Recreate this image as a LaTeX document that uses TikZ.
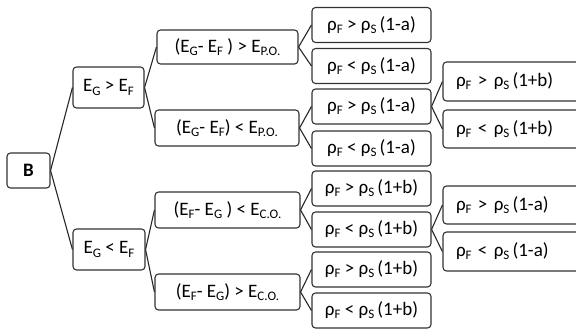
\documentclass[tikz,border=0pt]{standalone}
\usepackage{fontspec}
\setmainfont{Carlito}
\newcommand\sbx[1]{\raisebox{-0.35ex}{\fontsize{13}{13}\selectfont #1}}
\tikzset{
  box/.style={draw=black!80, line width=1.1pt, rounded corners=3.5pt, inner sep=0pt, align=center, font=\fontsize{19}{21}\selectfont},
  rbox/.style={box, minimum width=#1, text width=#1-26pt, align=left, inner xsep=13pt},
  conn/.style={draw=black!85, line width=1.1pt}
}
\begin{document}
\begin{tikzpicture}[x=1pt,y=-1pt]
\useasboundingbox (0,0) rectangle (576,329);
\node[box, minimum width=43pt, minimum height=35pt, font=\fontsize{19}{20}\selectfont\bfseries] (B) at (28.5,170.5) {B};
\node[box, minimum width=71pt, minimum height=41pt] (L1a) at (108.5,87.5) {E\sbx{G} > E\sbx{F}};
\node[box, minimum width=72pt, minimum height=41pt] (L1b) at (109,249.5) {E\sbx{G} < E\sbx{F}};
\node[box, minimum width=141pt, minimum height=34pt] (L2a) at (227.5,47) {(E\sbx{G}- E\sbx{F} ) > E\sbx{P.O.}};
\node[box, minimum width=144pt, minimum height=36pt] (L2b) at (227,128) {(E\sbx{G}- E\sbx{F}) < E\sbx{P.O.}};
\node[box, minimum width=145pt, minimum height=36pt] (L2c) at (227.5,210) {(E\sbx{F}- E\sbx{G} ) < E\sbx{C.O.}};
\node[box, minimum width=145pt, minimum height=36pt] (L2d) at (227.5,292) {(E\sbx{F}- E\sbx{G}) > E\sbx{C.O.}};
\foreach \n/\y/\t in {a/25/{ρ\sbx{F} > ρ\sbx{S}\,(1-a)}, b/66/{ρ\sbx{F} < ρ\sbx{S}\,(1-a)}, c/106.5/{ρ\sbx{F} > ρ\sbx{S}\,(1-a)}, d/148.5/{ρ\sbx{F} < ρ\sbx{S}\,(1-a)}, e/188.5/{ρ\sbx{F} > ρ\sbx{S}\,(1+b)}, f/229.5/{ρ\sbx{F} < ρ\sbx{S}\,(1+b)}, g/269.5/{ρ\sbx{F} > ρ\sbx{S}\,(1+b)}, h/310.5/{ρ\sbx{F} < ρ\sbx{S}\,(1+b)}}
  \node[box, minimum width=119pt, minimum height=35pt] (L3\n) at (371.5,\y) {\t};
\node[rbox=142pt, minimum height=39pt] (L4a) at (514,81.5) {ρ\sbx{F} > ρ\sbx{S}\,(1+b)};
\node[rbox=142pt, minimum height=38pt] (L4b) at (514,129) {ρ\sbx{F} < ρ\sbx{S}\,(1+b)};
\node[rbox=142pt, minimum height=38pt] (L4c) at (514,205) {ρ\sbx{F} > ρ\sbx{S}\,(1-a)};
\node[rbox=142pt, minimum height=39pt] (L4d) at (514,251.5) {ρ\sbx{F} < ρ\sbx{S}\,(1-a)};
\foreach \p/\c in {B/L1a, B/L1b, L1a/L2a, L1a/L2b, L1b/L2c, L1b/L2d, L2a/L3a, L2a/L3b, L2b/L3c, L2b/L3d, L2c/L3e, L2c/L3f, L2d/L3g, L2d/L3h, L3c/L4a, L3c/L4b, L3f/L4c, L3f/L4d}
  \draw[conn] (\p.east) -- (\c.west);
\end{tikzpicture}
\end{document}
